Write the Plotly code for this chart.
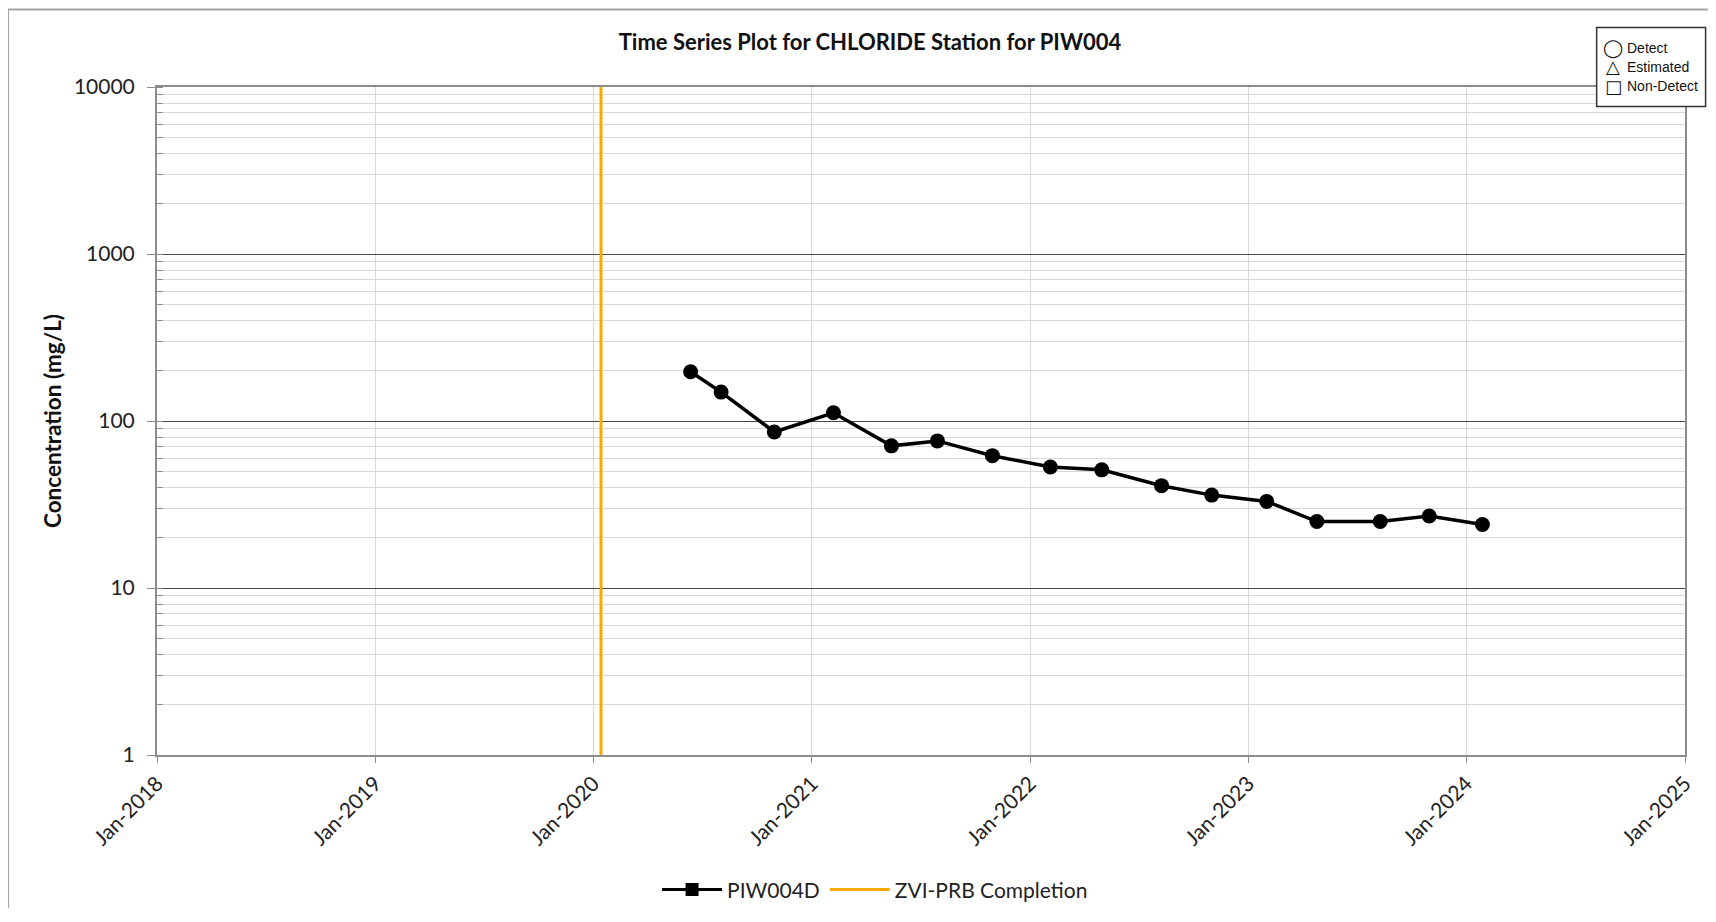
import plotly.graph_objects as go

# ---- data ----
sample_dates = ["2020-06-12", "2020-08-02", "2020-10-30", "2021-02-06", "2021-05-14",
                "2021-07-30", "2021-10-30", "2022-02-04", "2022-05-01", "2022-08-09",
                "2022-11-01", "2023-02-01", "2023-04-26", "2023-08-10", "2023-10-31",
                "2024-01-28"]
chloride = [197, 149, 86, 112, 71, 76, 62, 53, 51, 41, 36, 33, 25, 25, 27, 24]

zvi_date = "2020-01-14"
zvi_y = [1, 10000]

x_range = ["2018-01-01", "2025-01-01"]
y_tickvals = [1, 10, 100, 1000, 10000]
y_ticktext = ["1", "10", "100", "1000", "10000"]

# page has an 8px body margin; work in page coordinates and convert
OFF = 8
W, H = 1708, 900
PL, PR, PT, PB = 156.5, 1685.4, 86.5, 755.1   # plot area in page pixels
ML, MT = PL - OFF, PT - OFF
MR = W - (PR - OFF)
MB = H - (PB - OFF)

FONT = "Lato"

fig = go.Figure()

fig.add_trace(go.Scatter(
    x=sample_dates, y=chloride, mode="lines+markers", name="PIW004D",
    line=dict(color="black", width=3.5),
    marker=dict(symbol="circle", size=15, color="black"),
    showlegend=False,
))
# legend entry (square marker as in reference)
fig.add_trace(go.Scatter(
    x=[None], y=[None], mode="lines+markers", name="PIW004D",
    line=dict(color="black", width=3),
    marker=dict(symbol="square", size=13, color="black"),
))
fig.add_trace(go.Scatter(
    x=[zvi_date, zvi_date], y=zvi_y, mode="lines", name="ZVI-PRB Completion",
    line=dict(color="#FFA800", width=3),
))

pw = PR - PL
ph = PB - PT
def px(xp):
    return (xp - PL) / pw
def py(yp):
    return (PB - yp) / ph

fig.update_layout(
    width=W, height=H,
    margin=dict(l=ML, r=MR, t=MT, b=MB, autoexpand=False),
    paper_bgcolor="white", plot_bgcolor="white",
    font=dict(family=FONT, color="#222222"),
    title=dict(text="<b>Time Series Plot for CHLORIDE Station for PIW004</b>",
               x=(870 - OFF) / W, y=1 - (42.7 - OFF) / H, xanchor="center", yanchor="middle",
               xref="container", yref="container",
               font=dict(size=22, family=FONT, color="#111111")),
    showlegend=True,
    legend=dict(orientation="h", x=px(875), y=py(890),
                xanchor="center", yanchor="middle", font=dict(size=21, family=FONT, color="#222222"),
                bgcolor="rgba(0,0,0,0)", itemwidth=60, tracegroupgap=0),
)

fig.update_xaxes(
    type="date", range=x_range, dtick="M12", tick0="2018-01-01", tickformat="%b-%Y",
    tickangle=-45, tickfont=dict(size=21, family=FONT, color="#222222"),
    showgrid=True, gridcolor="#d9d9d9", gridwidth=1,
    showline=True, linecolor="#8c8c8c", linewidth=2, mirror=True,
    ticks="outside", ticklen=6, tickcolor="#8c8c8c", zeroline=False,
)
fig.update_yaxes(
    type="log", range=[0, 4], tickvals=y_tickvals, ticktext=y_ticktext,
    tickfont=dict(size=21, family=FONT, color="#222222"), ticklabelstandoff=8,
    title=dict(text="<b>Concentration (mg/L)</b>", font=dict(size=22.5, family=FONT, color="#111111"),
               standoff=6),
    showgrid=True, gridcolor="#4a4a4a", gridwidth=1,
    showline=True, linecolor="#8c8c8c", linewidth=2, mirror=True,
    ticks="outside", ticklen=8, tickcolor="#8c8c8c", zeroline=False,
    minor=dict(dtick="D1", showgrid=True, gridcolor="#d9d9d9", gridwidth=1,
               ticks="inside", ticklen=6, tickcolor="#8c8c8c"),
)

# outer chart border
fig.add_shape(type="rect", xref="paper", yref="paper",
              x0=px(7.5), x1=px(1780), y0=py(990), y1=py(9),
              line=dict(color="#a6a6a6", width=2), fillcolor="rgba(0,0,0,0)", layer="below")

# top-right symbol key
fig.add_shape(type="rect", xref="paper", yref="paper",
              x0=px(1597), x1=px(1706), y0=py(106), y1=py(27),
              line=dict(color="#333333", width=1.5), fillcolor="white")
key_rows = [("◯", "Detect", 47.5), ("△", "Estimated", 66), ("□", "Non-Detect", 85.5)]
for sym, lab, yy in key_rows:
    fig.add_annotation(xref="paper", yref="paper", x=px(1613.5), y=py(yy),
                       xanchor="center", yanchor="middle", showarrow=False,
                       text=sym, font=dict(size=18, family="DejaVu Sans", color="#111111"))
    fig.add_annotation(xref="paper", yref="paper", x=px(1625), y=py(yy),
                       xanchor="left", yanchor="middle", showarrow=False,
                       text=lab, font=dict(size=14, family="Liberation Sans", color="#111111"))

fig.write_html("out.html")
